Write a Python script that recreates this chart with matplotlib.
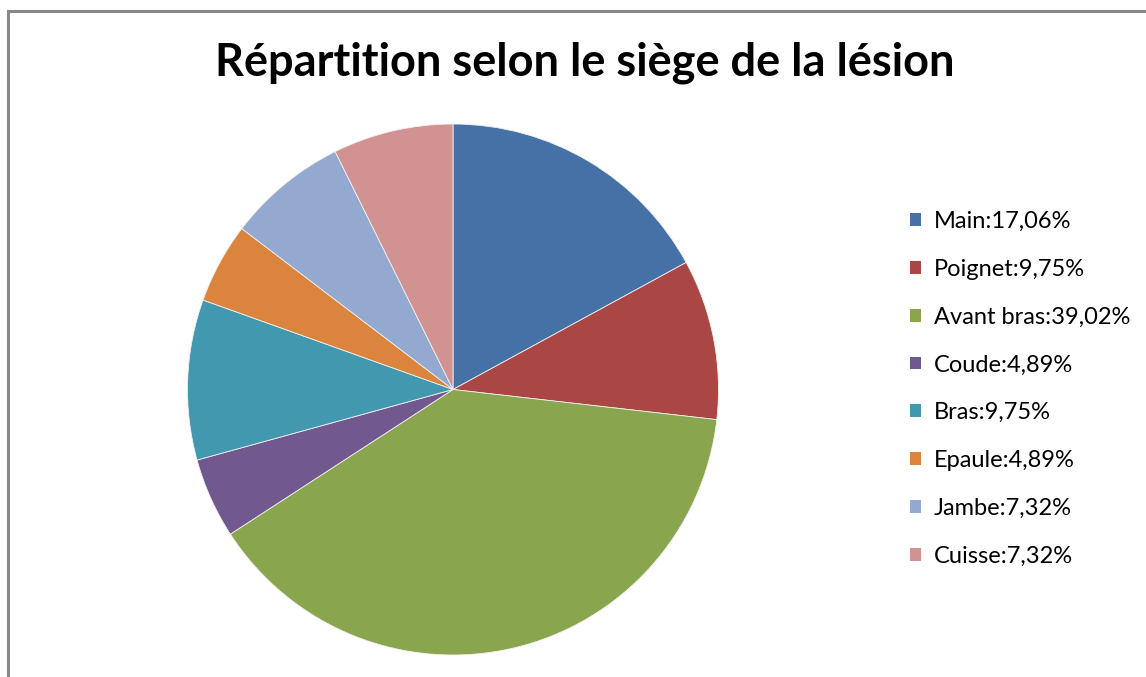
import matplotlib

matplotlib.use("Agg")
import matplotlib.pyplot as plt
from matplotlib.lines import Line2D
from matplotlib.patches import Patch

LABELS = ["Main", "Poignet", "Avant bras", "Coude", "Bras", "Epaule", "Jambe", "Cuisse"]
VALUES = [17.06, 9.75, 39.02, 4.89, 9.75, 4.89, 7.32, 7.32]
COLORS = ["#4571A6", "#AA4644", "#89A54E", "#71588F", "#4198AF", "#DB843D", "#93A9CF", "#D19392"]
TITLE = "Répartition selon le siège de la lésion"

plt.rcParams["font.family"] = ["Lato", "DejaVu Sans"]

W, H = 1146, 677
fig = plt.figure(figsize=(W / 100, H / 100), dpi=100)

# cadre gris (coupé à droite et en bas comme sur la capture)
fig.add_artist(Line2D([8 / W, 8 / W], [0, 1 - 11 / H], color="#888888", lw=2.2,
                      transform=fig.transFigure))
fig.add_artist(Line2D([8 / W, 1], [1 - 11 / H, 1 - 11 / H], color="#888888", lw=2.2,
                      transform=fig.transFigure))

# camembert : centre (453, 389), rayon ~265 px
cx, cy, r = 453, 389.5, 265.5
ax = fig.add_axes([(cx - r) / W, (H - cy - r) / H, 2 * r / W, 2 * r / H])
ax.pie(VALUES, colors=COLORS, startangle=90, counterclock=False,
       wedgeprops=dict(edgecolor="#f0f0f0", linewidth=0.6))
ax.set_xlim(-1, 1)
ax.set_ylim(-1, 1)
ax.set_aspect("auto")
ax.axis("off")

fig.text(585 / W, 1 - 63 / H, TITLE, ha="center", va="center",
         fontsize=32.5, fontweight="bold", color="black")

handles = [Patch(facecolor=c, edgecolor="none") for c in COLORS]
texts = [f"{l}:{v:.2f}".replace(".", ",") + "%" for l, v in zip(LABELS, VALUES)]
fig.legend(handles, texts, loc="upper left", bbox_to_anchor=(910 / W, 1 - 211 / H),
           frameon=False, fontsize=17, handlelength=0.45, handleheight=0.45,
           handletextpad=0.55, labelspacing=1.135, borderpad=0, borderaxespad=0)

fig.savefig("out.png", dpi=100, facecolor="white")
